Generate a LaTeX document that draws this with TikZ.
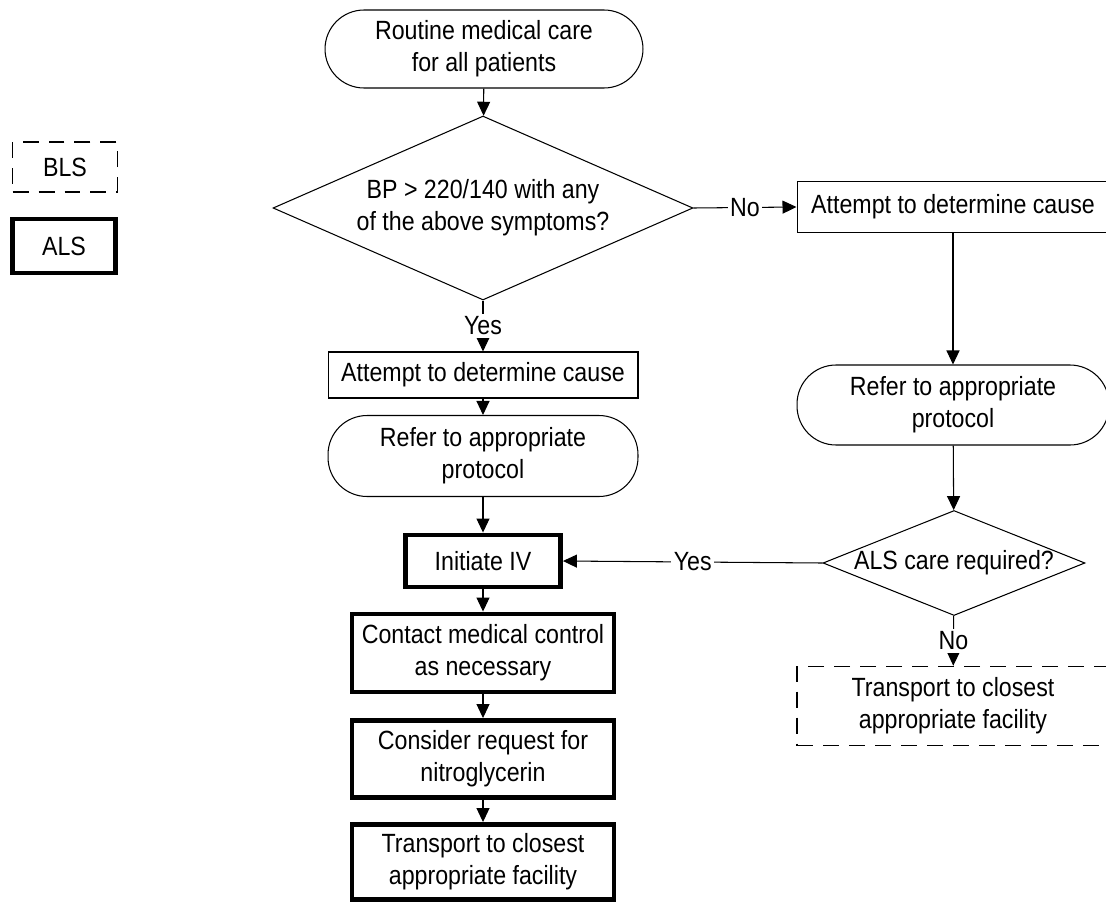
\documentclass[tikz,border=0pt]{standalone}
\usepackage{fontspec}
\setmainfont{Liberation Sans}[FakeStretch=0.88]
\usetikzlibrary{shapes.geometric,arrows.meta}

\begin{document}
\begin{tikzpicture}[x=0.02cm, y=-0.02cm,
    every node/.style={font=\fontsize{15pt}{18.2pt}\selectfont,
      align=center, inner sep=0pt},
    terminal/.style={draw, line width=0.6pt, rounded corners=0.78cm},
    process/.style={draw, line width=0.6pt},
    alsbox/.style={draw, line width=2.8pt},
    blsbox/.style={draw, line width=0.9pt, dash pattern=on 0.32cm off 0.2cm},
    decision/.style={draw, diamond, line width=0.6pt},
    flow/.style={line width=0.6pt, -{Triangle[length=0.28cm, width=0.26cm]}},
    tag/.style={fill=white, inner sep=1.5pt}]

      \clip (0,0) rectangle (1106,903);

      % legend
      \node [blsbox, minimum width=2.1cm, minimum height=1.0cm] (legbls)
      at (65,167) {BLS};
      \node [alsbox, minimum width=2.06cm, minimum height=1.08cm] (legals)
      at (64,246) {ALS};

      % main column
      \node [terminal, minimum width=6.36cm, minimum height=1.56cm] (start)
      at (484,49) {Routine medical care\\for all patients};
      \node [decision, minimum width=8.4cm, minimum height=3.68cm,
      label={center:BP > 220/140 with any\\of the above symptoms?}] (bp)
      at (483,208) {};
      \node [process, minimum width=6.2cm, minimum height=0.92cm] (causeA)
      at (483,375) {Attempt to determine cause};
      \node [terminal, minimum width=6.2cm, minimum height=1.62cm] (protoA)
      at (483,456) {Refer to appropriate\\protocol};
      \node [alsbox, minimum width=3.1cm, minimum height=1.04cm] (iv)
      at (483,561) {Initiate IV};
      \node [alsbox, minimum width=5.24cm, minimum height=1.56cm] (contact)
      at (483,653) {Contact medical control\\as necessary};
      \node [alsbox, minimum width=5.24cm, minimum height=1.54cm] (nitro)
      at (483,759) {Consider request for\\nitroglycerin};
      \node [alsbox, minimum width=5.24cm, minimum height=1.5cm] (transA)
      at (483,862) {Transport to closest\\appropriate facility};

      % right column
      \node [process, minimum width=6.24cm, minimum height=1.02cm] (causeB)
      at (953,207) {Attempt to determine cause};
      \node [terminal, minimum width=6.24cm, minimum height=1.6cm] (protoB)
      at (953,405) {Refer to appropriate\\protocol};
      \node [decision, minimum width=5.24cm, minimum height=2.1cm,
      label={center:ALS care required?}] (alsq)
      at (954,563) {};
      \node [blsbox, minimum width=6.24cm, minimum height=1.58cm] (transB)
      at (953,706) {Transport to closest\\appropriate facility};

      % connectors
      \draw [flow] (start) -- (bp);
      \draw [flow] (bp) -- node [tag] {Yes} (causeA);
      \draw [flow] (causeA) -- (protoA);
      \draw [flow] (protoA) -- (iv);
      \draw [flow] (iv) -- (contact);
      \draw [flow] (contact) -- (nitro);
      \draw [flow] (nitro) -- (transA);

      \draw [flow] (bp.east) -- node [tag] {No} (causeB.west);
      \draw [flow] (causeB) -- (protoB);
      \draw [flow] (protoB) -- (alsq);
      \draw [flow] (alsq.west) -- node [tag] {Yes} (iv.east);
      \draw [flow] (alsq) -- node [tag] {No} (transB);
\end{tikzpicture}
\end{document}
